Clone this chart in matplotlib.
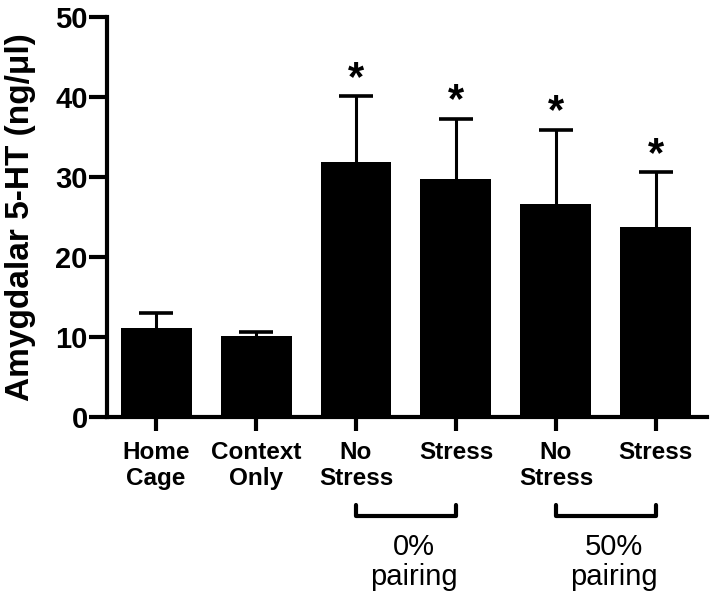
import matplotlib
matplotlib.use("Agg")
import matplotlib.pyplot as plt
import matplotlib.transforms as mtrans

# dados (media e erro padrao, ng/ul)
grupos = ["Home\nCage", "Context\nOnly", "No\nStress", "Stress", "No\nStress", "Stress"]
medias = [11.1, 10.1, 31.9, 29.7, 26.6, 23.7]
erros = [1.9, 0.5, 8.2, 7.6, 9.3, 6.9]
significativo = [False, False, True, True, True, True]

# colchetes: (primeiro grupo, ultimo grupo, texto)
pareamento = [(2, 3, "0%\npairing"), (4, 5, "50%\npairing")]

plt.rcParams["font.family"] = ["Liberation Sans", "DejaVu Sans"]

fig = plt.figure(figsize=(7.14, 6.02), dpi=100)
ax = fig.add_axes([0.150, 0.307, 0.840, 0.665])

x = list(range(len(medias)))
ax.bar(x, medias, width=0.71, color="black", zorder=2)
eb = ax.errorbar(x, medias, yerr=[[0] * len(erros), erros], fmt="none",
                 ecolor="black", elinewidth=2.2, capsize=12.5, capthick=2.6, zorder=1)
# so a parte de cima do erro
eb[1][0].set_visible(False)

# asteriscos acima das barras de erro
for i in x:
    if significativo[i]:
        ax.annotate("*", (i, medias[i] + erros[i]), xytext=(0, -2),
                    textcoords="offset points", ha="center", va="bottom",
                    fontsize=30, fontweight="bold")

ax.set_xlim(-0.49, 5.51)
ax.set_ylim(0, 50)
ax.set_yticks([0, 10, 20, 30, 40, 50])
ax.set_xticks(x)
ax.set_xticklabels(grupos, fontsize=17.5, fontweight="bold", linespacing=1.2)
for t in ax.get_yticklabels():
    t.set_fontsize(21)
    t.set_fontweight("bold")

ax.set_ylabel("Amygdalar 5-HT (ng/\u03bcl)", fontsize=24, fontweight="bold")
ax.yaxis.set_label_coords(-0.118, 0.5)

for s in ["top", "right"]:
    ax.spines[s].set_visible(False)
for s in ["left", "bottom"]:
    ax.spines[s].set_linewidth(3)
ax.tick_params(axis="y", direction="out", length=13, width=3, pad=1)
ax.tick_params(axis="x", direction="out", length=10, width=3, pad=7)

# colchetes de pareamento abaixo do eixo
trans = mtrans.blended_transform_factory(ax.transData, ax.transAxes)
for a, b, texto in pareamento:
    ax.plot([a, a, b, b], [-0.220, -0.2475, -0.2475, -0.220], color="black",
            lw=3, transform=trans, clip_on=False, solid_capstyle="round",
            solid_joinstyle="round")
    ax.text((a + b) / 2 + 0.08, -0.29, texto, transform=trans, ha="center",
            va="top", fontsize=21, linespacing=1.1)

fig.savefig("out.png", dpi=100)
